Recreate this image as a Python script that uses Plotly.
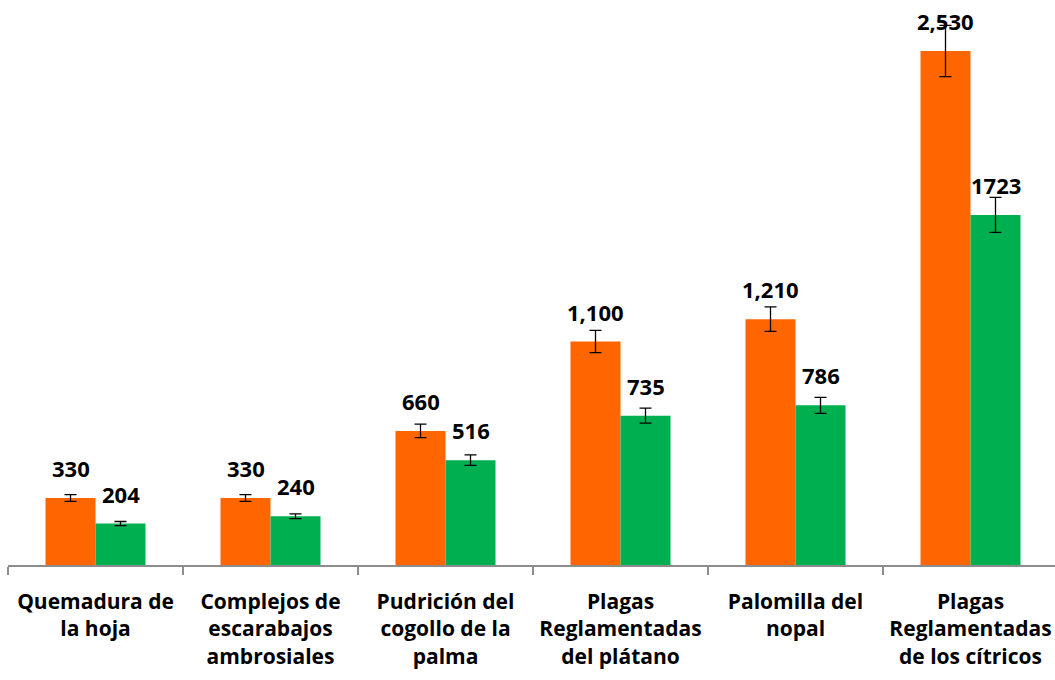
import plotly.graph_objects as go

categories = [
    "Quemadura de<br>la hoja",
    "Complejos de<br>escarabajos<br>ambrosiales",
    "Pudrición del<br>cogollo de la<br>palma",
    "Plagas<br>Reglamentadas<br>del plátano",
    "Palomilla del<br>nopal",
    "Plagas<br>Reglamentadas<br>de los cítricos",
]
orange_values = [330, 330, 660, 1100, 1210, 2530]
green_values = [204, 240, 516, 735, 786, 1723]
orange_labels = ["330", "330", "660", "1,100", "1,210", "2,530"]
green_labels = ["204", "240", "516", "735", "786", "1723"]
error_percent = 5

ORANGE = "#FF6600"
GREEN = "#00B050"
FONT = "Open Sans"

W, H = 1055, 680
ML, MR, MT, MB = 8, 0, 0, 115
cat_px = 175.0
plot_w = W - ML - MR
n_cats_visible = plot_w / cat_px
bar_px = 50.0
bargap = 1 - 2 * bar_px / cat_px
y_top = 2781

fig = go.Figure()
for vals, col, name in [(orange_values, ORANGE, "A"), (green_values, GREEN, "B")]:
    fig.add_trace(go.Bar(
        x=categories, y=vals, name=name,
        marker=dict(color=col, line=dict(width=0)),
        error_y=dict(type="percent", value=error_percent, color="black",
                     thickness=1.3, width=6),
    ))

annotations = []
for labels, vals, shift in [(orange_labels, orange_values, -bar_px / 2),
                            (green_labels, green_values, bar_px / 2)]:
    for c, v, t in zip(categories, vals, labels):
        annotations.append(dict(
            x=c, y=v, xref="x", yref="y", text=t, showarrow=False,
            xanchor="center", yanchor="bottom", xshift=shift, yshift=13,
            font=dict(family=FONT, size=22, color="black", weight=700),
        ))

fig.update_layout(
    width=W, height=H,
    margin=dict(l=ML, r=MR, t=MT, b=MB, autoexpand=False),
    paper_bgcolor="white", plot_bgcolor="white",
    barmode="group", bargap=bargap, bargroupgap=0,
    showlegend=False,
    annotations=annotations,
    font=dict(family=FONT, color="black"),
)
fig.update_xaxes(
    type="category", range=[-0.5, -0.5 + n_cats_visible], automargin=False,
    showline=True, linecolor="#8c8c8c", linewidth=1.5,
    ticks="outside", tickson="boundaries", ticklen=8, tickcolor="#8c8c8c", tickwidth=1.5,
    ticklabelstandoff=17,
    tickfont=dict(family=FONT, size=21, color="black", weight=700),
    showgrid=False, zeroline=False,
)
fig.update_yaxes(range=[0, y_top], visible=False, showgrid=False, zeroline=False,
                 automargin=False)

fig.write_html("out.html", config={"displayModeBar": False},
               post_script="document.body.style.margin='0';")
